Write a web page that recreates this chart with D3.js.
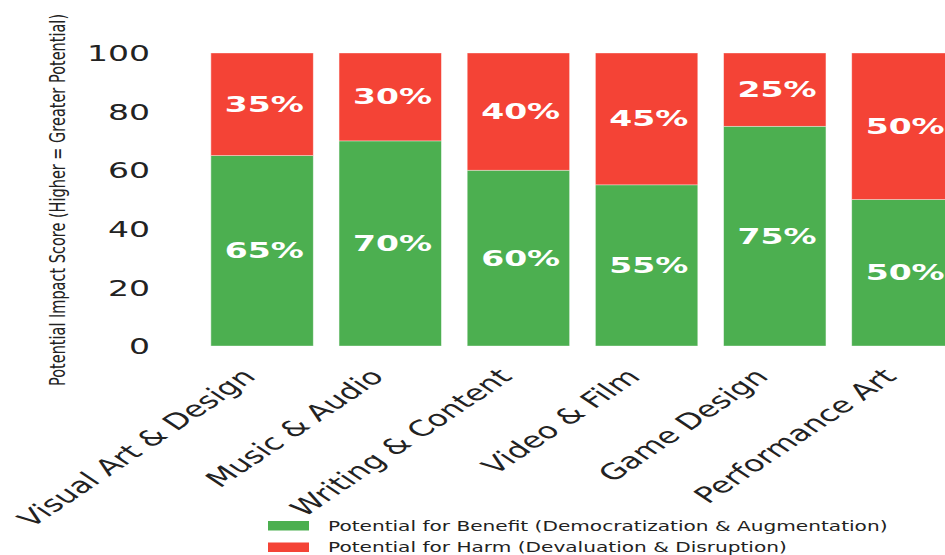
<!DOCTYPE html>
<html>
<head>
<meta charset="utf-8">
<script src="https://cdn.jsdelivr.net/npm/d3@7"></script>
<style>
  html, body { margin: 0; padding: 0; background: #fff; overflow: hidden; }
  svg { display: block; }
  text { font-family: "DejaVu Sans", sans-serif; }
</style>
</head>
<body>
<div id="chart"></div>
<script>
const categories = ["Visual Art & Design", "Music & Audio", "Writing & Content", "Video & Film", "Game Design", "Performance Art"];
const benefitValues = [65, 70, 60, 55, 75, 50];
const harmValues = [35, 30, 40, 45, 25, 50];
const yTicks = [0, 20, 40, 60, 80, 100];
const seriesNames = ["Potential for Benefit (Democratization & Augmentation)", "Potential for Harm (Devaluation & Disruption)"];
const seriesColors = ["#4CAF50", "#F44336"];
const yAxisTitle = "Potential Impact Score (Higher = Greater Potential)";

const W = 945, H = 555, K = 1.5; // horizontal stretch of the reference
const VW = W / K;

const svg = d3.select("#chart").append("svg")
  .attr("width", W).attr("height", H)
  .attr("viewBox", `0 0 ${VW} ${H}`)
  .attr("preserveAspectRatio", "none");

const x = d3.scaleBand().domain(categories).range([198 / K, 967 / K]).paddingInner(0.2).paddingOuter(0.1);
const y = d3.scaleLinear().domain([0, 100]).range([346, 53]);

const rows = categories.map((c, i) => ({ cat: c, benefit: benefitValues[i], harm: harmValues[i] }));
const stack = d3.stack().keys(["benefit", "harm"])(rows);

const layers = svg.append("g").selectAll("g").data(stack).join("g")
  .attr("fill", (d, i) => seriesColors[i]);

layers.selectAll("rect").data(d => d).join("rect")
  .attr("x", d => x(d.data.cat))
  .attr("width", x.bandwidth())
  .attr("y", d => y(d[1]))
  .attr("height", d => y(d[0]) - y(d[1]))
  .attr("stroke", "#ffffff")
  .attr("stroke-width", 0.6)
  .attr("stroke-opacity", 0.6);

layers.selectAll("text").data(d => d).join("text")
  .attr("x", d => x(d.data.cat) + x.bandwidth() / 2 + 1.5)
  .attr("y", d => y((d[0] + d[1]) / 2))
  .attr("text-anchor", "middle")
  .attr("dominant-baseline", "central")
  .attr("fill", "#ffffff")
  .attr("font-weight", "bold")
  .attr("font-size", 22)
  .text(d => (d[1] - d[0]) + "%");

// Y axis
const yAxis = svg.append("g").attr("transform", "translate(100,0)")
  .call(d3.axisLeft(y).tickValues(yTicks).tickSize(0).tickPadding(0));
yAxis.select(".domain").remove();
yAxis.selectAll("text")
  .attr("font-size", 22).attr("fill", "#222")
  .attr("font-family", "DejaVu Sans")
  .attr("dy", "0.35em");

// X axis
const xAxis = svg.append("g").attr("transform", "translate(0,346)")
  .call(d3.axisBottom(x).tickSize(0).tickPadding(0));
xAxis.select(".domain").remove();
xAxis.selectAll("text")
  .attr("font-size", 22).attr("fill", "#222")
  .attr("font-family", "DejaVu Sans")
  .attr("text-anchor", "end")
  .attr("y", 0).attr("dy", 0)
  .attr("transform", "translate(-3.3,32) rotate(-45)");

// Y title
svg.append("text")
  .attr("transform", `translate(${57.5 / K},200) rotate(-90)`)
  .attr("text-anchor", "middle")
  .attr("dominant-baseline", "central")
  .attr("font-size", 14.5)
  .attr("fill", "#222")
  .text(yAxisTitle);

// Legend
const legend = svg.append("g");
const legendRows = [526, 547.5];
seriesNames.forEach((name, i) => {
  legend.append("rect")
    .attr("x", 268 / K).attr("width", 41 / K)
    .attr("y", legendRows[i] - 5).attr("height", 9.5)
    .attr("fill", seriesColors[i]);
  legend.append("text")
    .attr("x", 328 / K).attr("y", legendRows[i])
    .attr("dominant-baseline", "central")
    .attr("font-size", 13.4)
    .attr("fill", "#222")
    .text(name);
});
</script>
</body>
</html>
